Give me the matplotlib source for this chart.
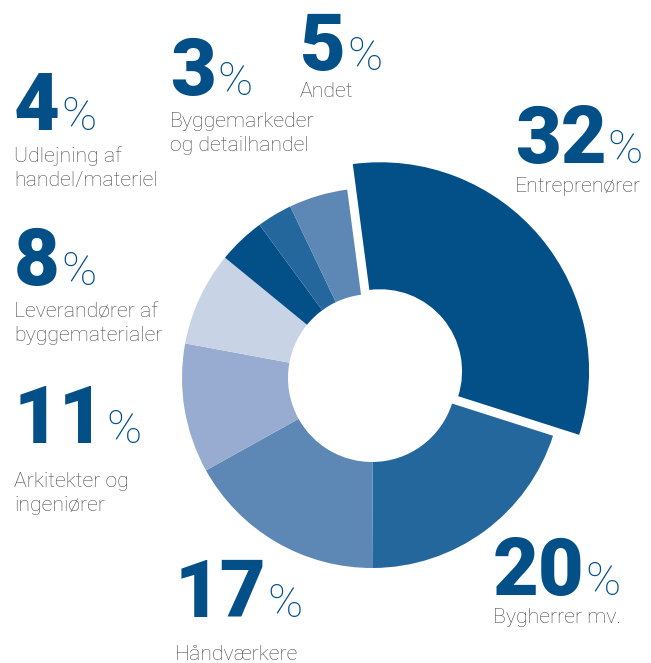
import matplotlib
matplotlib.use("Agg")
import matplotlib.pyplot as plt

# andele i procent, i rækkefølge med uret fra toppen
values = [32, 20, 17, 11, 8, 4, 3, 5]
numbers = ["32", "20", "17", "11", "8", "4", "3", "5"]
labels = [
    ["Entreprenører"],
    ["Bygherrer mv."],
    ["Håndværkere"],
    ["Arkitekter og", "ingeniører"],
    ["Leverandører af", "byggematerialer"],
    ["Udlejning af", "handel/materiel"],
    ["Byggemarkeder", "og detailhandel"],
    ["Andet"],
]
colors = ["#034f88", "#23679c", "#5d87b4", "#97acd0", "#c8d3e6",
          "#034f88", "#23679c", "#5d87b4"]

# placering i pixels (x, tal-baseline, første tekstlinje-baseline)
positions = [
    (515, 163, 192),
    (493, 595, 623),
    (175, 617, 660),
    (14, 443, 487),
    (14, 285, 317),
    (14, 130, 162),
    (170, 95, 127),
    (300, 70, 97),
]

W, H = 651, 663
NUM_COLOR = "#034f88"
TXT_COLOR = "#4a4a4a"

fig = plt.figure(figsize=(W / 100, H / 100), dpi=100)
ax = fig.add_axes([0, 0, 1, 1])

cx, cy = 372, H - 378
R, r_in = 190, 84
wedges, _ = ax.pie(values, colors=colors, startangle=97.5, counterclock=False,
                   radius=R, center=(cx, cy), explode=[10.5, 0, 0, 0, 0, 0, 0, 0],
                   wedgeprops=dict(width=R - r_in, linewidth=0))
# den fremhævede skive er også lidt større
wedges[0].set_radius(209)
wedges[0].set_width(209 - r_in + 2)

# pie() sætter sine egne grænser, så de sættes bagefter
ax.set_xlim(0, W)
ax.set_ylim(0, H)
ax.set_aspect("equal")
ax.axis("off")

renderer = fig.canvas.get_renderer()
for num, lines, (x, yb, yl) in zip(numbers, labels, positions):
    t = ax.text(x, H - yb, num, fontsize=57, fontweight="black", family="Roboto",
                color=NUM_COLOR, ha="left", va="baseline")
    bb = t.get_window_extent(renderer)
    ax.text(bb.x1 + 1, H - yb, "%", fontsize=34, fontweight="light", family="Roboto",
            color=NUM_COLOR, ha="left", va="baseline")
    for i, line in enumerate(lines):
        ax.text(x, H - yl - 24 * i, line, fontsize=15.3, fontweight="light",
                family="Roboto", color=TXT_COLOR, ha="left", va="baseline")

fig.savefig("out.png", dpi=100)
